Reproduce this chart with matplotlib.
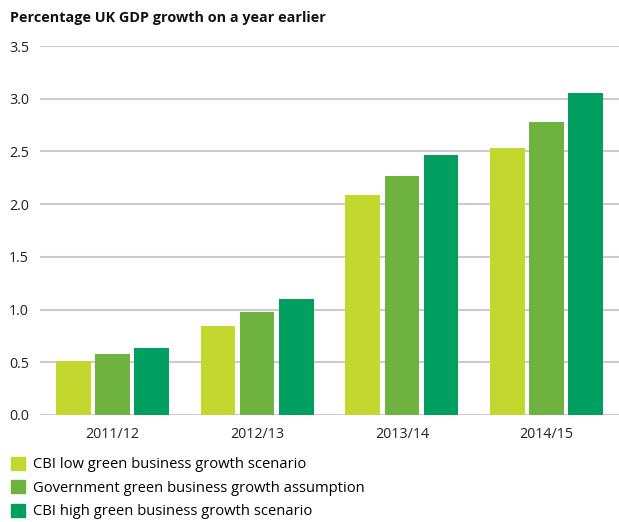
import numpy as np
import matplotlib.pyplot as plt
from matplotlib.patches import Patch

plt.rcParams['font.family'] = ['Open Sans', 'DejaVu Sans']

years = ['2011/12', '2012/13', '2013/14', '2014/15']
series = [
    'CBI low green business growth scenario',
    'Government green business growth assumption',
    'CBI high green business growth scenario',
]
cbi_low = [0.51, 0.84, 2.09, 2.53]
government = [0.58, 0.98, 2.27, 2.78]
cbi_high = [0.64, 1.10, 2.47, 3.05]
colors = ['#c2d82f', '#6eb340', '#009f5f']

fig = plt.figure(figsize=(6.19, 5.22), dpi=100)
ax = fig.add_axes([40 / 619, 1 - 415 / 522, 579 / 619, 369 / 522])

x = np.arange(len(years))
width = 0.24
step = 0.27
for i, (vals, c) in enumerate(zip([cbi_low, government, cbi_high], colors)):
    ax.bar(x + (i - 1) * step, vals, width, color=c, zorder=2)

ax.set_xlim(-0.5, 3.5)
ax.set_ylim(0, 3.5)
ax.set_yticks(np.arange(0, 3.51, 0.5))
ax.set_yticklabels(['%.1f' % v for v in np.arange(0, 3.51, 0.5)])
ax.set_xticks(x)
ax.set_xticklabels(years)
ax.grid(axis='y', color='#cccccc', linewidth=1.5, zorder=0)
for s in ax.spines.values():
    s.set_visible(False)
ax.tick_params(length=0, labelsize=10.3, colors='#222222', pad=8)
ax.tick_params(axis='x', pad=9)

fig.text(10 / 619, 1 - 18 / 522, 'Percentage UK GDP growth on a year earlier',
         fontsize=10.4, fontweight='bold', va='center', color='#111111')

handles = [Patch(color=c) for c in colors]
fig.legend(handles, series, loc='upper left', bbox_to_anchor=(2 / 619, 1 - 448 / 522),
           frameon=False, fontsize=10.6, handlelength=0.95, handleheight=0.95,
           handletextpad=0.55, labelspacing=0.55, borderaxespad=0.2)

fig.savefig('out.png', dpi=100)
